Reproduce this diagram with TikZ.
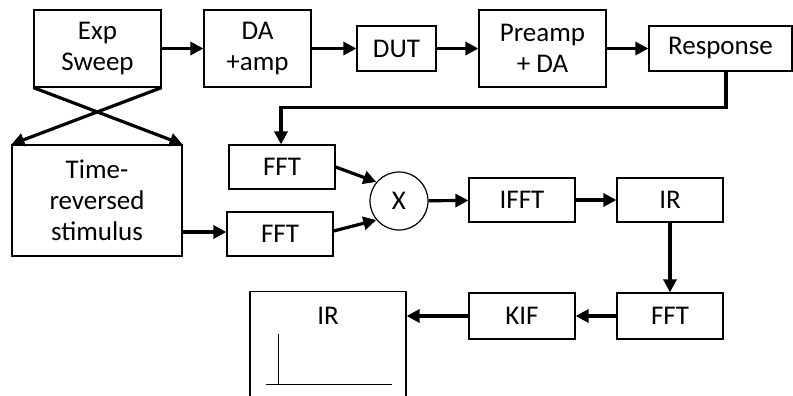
\documentclass[tikz,border=0pt]{standalone}
\usepackage{fontspec}
\setmainfont{Carlito}
\usetikzlibrary{arrows.meta,calc}
\begin{document}
\begin{tikzpicture}[x=1pt,y=-1pt,
  box/.style={draw,line width=1.2pt,inner sep=0pt,align=center,
    font=\fontsize{27}{31}\selectfont},
  arr/.style={line width=3.2pt,-{Triangle[length=13pt,width=13pt]}},
  thinline/.style={line width=1pt}]
\useasboundingbox (0,0) rectangle (793,396);
\node[box,minimum width=127pt,minimum height=77pt] (exp) at (97.5,48.5) {Exp\\Sweep};
\node[box,minimum width=107pt,minimum height=77pt] (da) at (257.5,48.5) {DA\\+amp};
\node[box,minimum width=79pt,minimum height=45pt] (dut) at (396.5,48.5) {DUT};
\node[box,minimum width=127pt,minimum height=77pt] (pre) at (542.5,48.5) {Preamp\\+ DA};
\node[box,minimum width=143pt,minimum height=45pt] (resp) at (720.5,48.5) {Response};
\node[box,minimum width=170pt,minimum height=111pt] (trs) at (97,200.5) {Time-\\reversed\\stimulus};
\node[box,minimum width=106pt,minimum height=44pt] (fft1) at (282,167) {FFT};
\node[box,minimum width=106pt,minimum height=44pt] (fft2) at (280,234) {FFT};
\node[box,circle,minimum size=58pt] (mul) at (399,201) {X};
\node[box,minimum width=106pt,minimum height=44pt] (ifft) at (522,200) {IFFT};
\node[box,minimum width=106pt,minimum height=44pt] (ir) at (670,200) {IR};
\node[box,minimum width=106pt,minimum height=46pt] (fft3) at (670,316) {FFT};
\node[box,minimum width=106pt,minimum height=46pt] (kif) at (522,316) {KIF};
\node[box,minimum width=156pt,minimum height=130pt,anchor=north] (irbox) at (328,291) {};
\node[font=\fontsize{27}{31}\selectfont,inner sep=0pt] (irlabel) at (328,316) {IR};
\coordinate (ax0) at (278,384);
\draw[thinline] (ax0) -- (278,334);
\draw[thinline] (266,384) -- (392,384);
% connectors
\draw[arr] (exp) -- (da);
\draw[arr] (da) -- (dut);
\draw[arr] (dut) -- (pre);
\draw[arr] (pre) -- (resp);
\draw[arr] (exp.south west) -- (trs.north east);
\draw[arr] (exp.south east) -- (trs.north west);
\draw[arr] ([xshift=5.5pt]resp.south) -- ++(0,36) -| ([xshift=-1pt]fft1.north);
\draw[arr] (trs.east |- 0,232) -- (fft2.west |- 0,232);
\draw[arr] (fft1.east) -- (mul.140);
\draw[arr] ([yshift=3pt]fft2.east) -- (mul.220);
\draw[arr] (mul) -- (ifft);
\draw[arr] (ifft) -- (ir);
\draw[arr] (ir) -- (fft3);
\draw[arr] (fft3) -- (kif);
\draw[arr] (kif.west) -- (kif.west -| irbox.east);
\end{tikzpicture}
\end{document}
